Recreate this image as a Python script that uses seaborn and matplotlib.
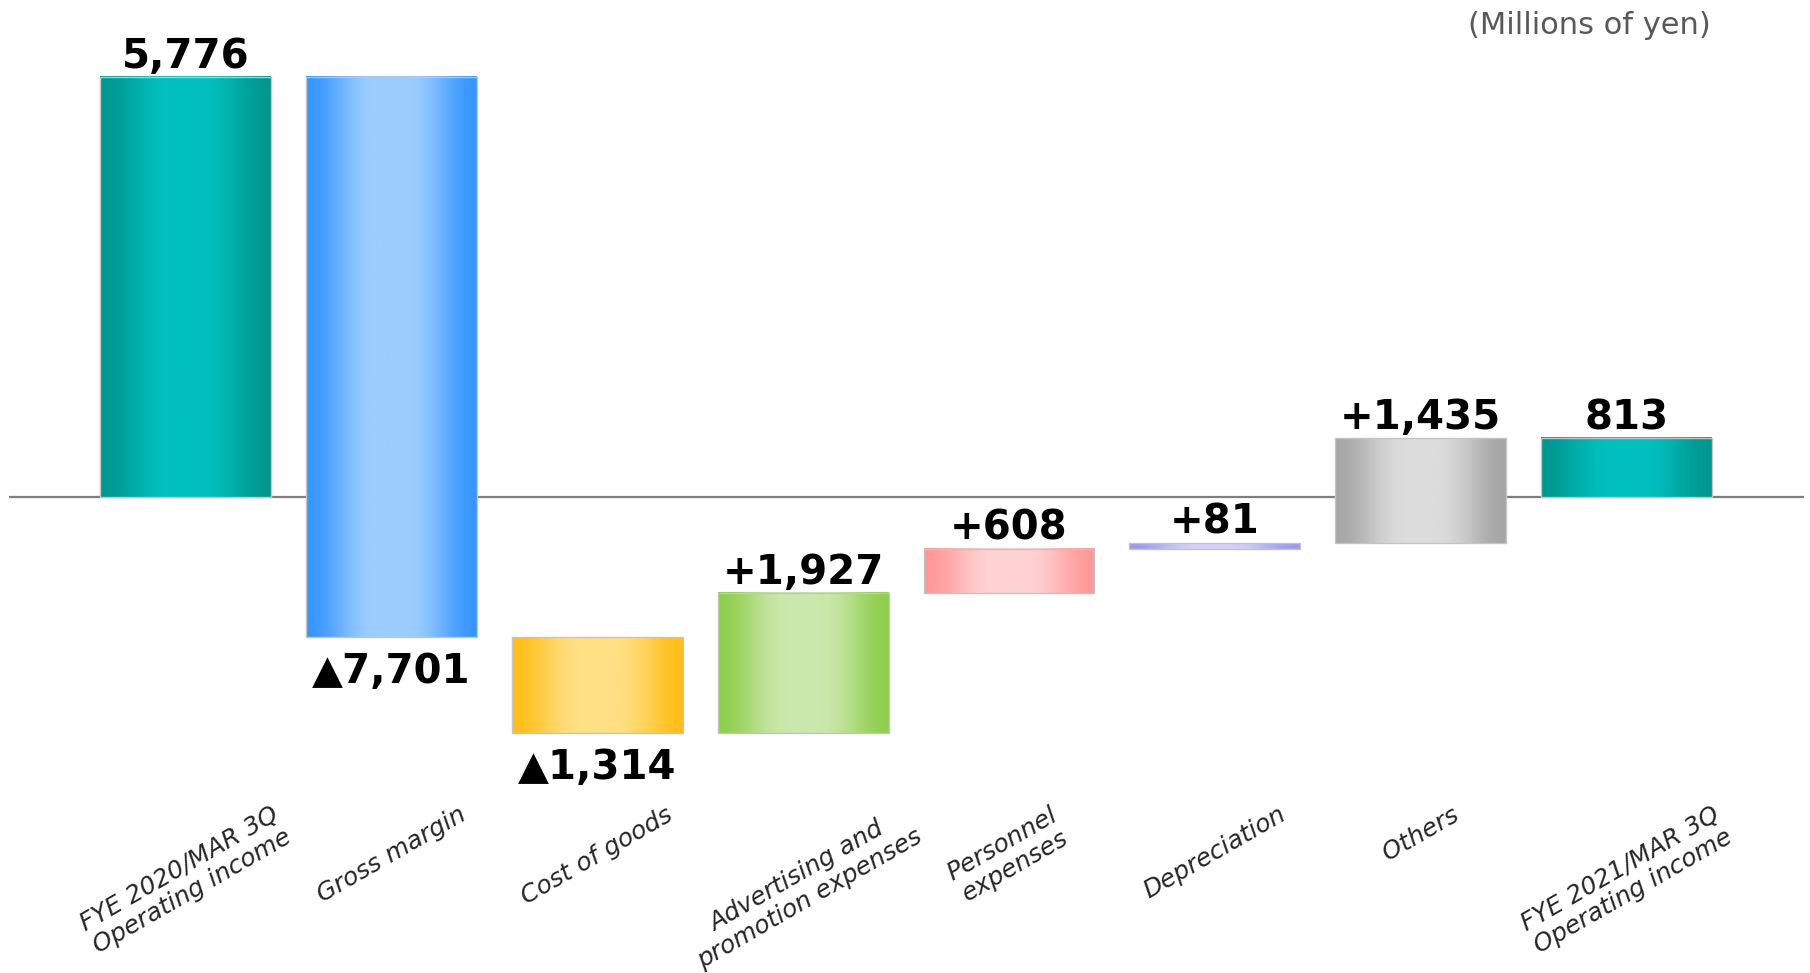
import numpy as np
import pandas as pd
import matplotlib
matplotlib.use("Agg")
import matplotlib.pyplot as plt
import seaborn as sns
from matplotlib.colors import to_rgb

# ---------------- data ----------------
categories = [
    "FYE 2020/MAR 3Q\nOperating income",
    "Gross margin",
    "Cost of goods",
    "Advertising and\npromotion expenses",
    "Personnel\nexpenses",
    "Depreciation",
    "Others",
    "FYE 2021/MAR 3Q\nOperating income",
]
values = [5776, -7701, -1314, 1927, 608, 81, 1435, 813]
is_total = [True, False, False, False, False, False, False, True]
value_labels = ["5,776", "▲7,701", "▲1,314", "+1,927", "+608", "+81", "+1,435", "813"]
edge_colors = ["#009790", "#3796FF", "#FFBF1A", "#90CF4E", "#FF9898", "#9A9AEE", "#A6A6A6", "#009790"]
center_colors = ["#00C0BE", "#9CCDFF", "#FFE085", "#CBE8AC", "#FFD2D2", "#D2D2FF", "#DCDCDC", "#00C0BE"]
unit_label = "(Millions of yen)"

# ---------------- waterfall geometry from data ----------------
bottoms, heights = [], []
running = 0
for v, tot in zip(values, is_total):
    if tot:
        bottoms.append(0)
        heights.append(v)
        running = v
    else:
        bottoms.append(running)
        heights.append(v)
        running += v

df = pd.DataFrame({"category": categories, "height": heights})

sns.set_style("white")
plt.rcParams["font.family"] = ["DejaVu Sans"]

fig = plt.figure(figsize=(18.10, 9.73), dpi=100)
ax = fig.add_axes([9 / 1810, 1 - 790 / 973, (1804 - 9) / 1810, (790 - 30) / 973])

sns.barplot(data=df, x="category", y="height", hue="category",
            palette=edge_colors, width=0.83, legend=False, ax=ax,
            edgecolor="#C4C4C4", linewidth=1.0)

patches = list(ax.patches)[:len(categories)]
for p, b in zip(patches, bottoms):
    p.set_y(b)

# gradient fills (dark edges, light centre)
xs = np.linspace(0, 1, 256)
d = np.abs(2 * xs - 1)
profile = np.clip((1 - d) / 0.8, 0, 1)
profile = profile * profile * (3 - 2 * profile)
for p, ec, cc in zip(patches, edge_colors, center_colors):
    e = np.array(to_rgb(ec))
    c = np.array(to_rgb(cc))
    img = e[None, :] * (1 - profile[:, None]) + c[None, :] * profile[:, None]
    img = img[None, :, :]
    x0 = p.get_x()
    w = p.get_width()
    y0 = p.get_y()
    h = p.get_height()
    ax.imshow(img, extent=[x0, x0 + w, min(y0, y0 + h), max(y0, y0 + h)],
              aspect="auto", interpolation="bilinear", zorder=2)
    p.set_facecolor("none")
    p.set_zorder(3)

ax.axhline(0, color="#7F7F7F", lw=1.6, zorder=1)

# value labels
for i, (v, tot, b, h, lab) in enumerate(zip(values, is_total, bottoms, heights, value_labels)):
    top = max(b, b + h)
    bot = min(b, b + h)
    if tot or v > 0:
        ax.annotate(lab, (i, top), xytext=(0, 6.5), textcoords="offset points",
                    ha="center", va="baseline", fontsize=29, fontweight="bold",
                    color="black", zorder=5)
    else:
        ax.annotate(lab, (i, bot), xytext=(0, -33), textcoords="offset points",
                    ha="center", va="baseline", fontsize=29, fontweight="bold",
                    color="black", zorder=5)

ax.set_xlim(-0.859, 7.863)
ax.set_ylim(-4022, 6428)
ax.set_xticks(range(len(categories)))
ax.set_xticklabels(categories, rotation=30, ha="center", va="top",
                   fontsize=18, fontstyle="italic", multialignment="center",
                   linespacing=1.1)
ax.tick_params(axis="x", length=0, pad=9)
ax.set_yticks([])
ax.set_xlabel("")
ax.set_ylabel("")
for s in ax.spines.values():
    s.set_visible(False)

fig.text(1711 / 1810, 1 - 25 / 973, unit_label, ha="right", va="center",
         fontsize=22, color="#595959")

fig.savefig("out.png", dpi=100)
